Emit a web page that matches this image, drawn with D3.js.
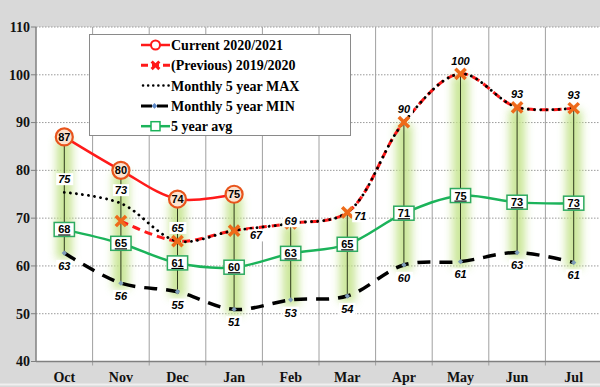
<!DOCTYPE html>
<html>
<head>
<meta charset="utf-8">
<script src="https://cdn.jsdelivr.net/npm/d3@7"></script>
<style>
  body { margin: 0; background: #d9d9d9; }
  svg { display: block; }
  .tick-y, .tick-x { font-family: "Liberation Serif", serif; font-weight: bold; font-size: 14px; fill: #111; }
  .lbl { font-family: "Liberation Sans", Arial, sans-serif; font-weight: bold; font-size: 11px; }
</style>
</head>
<body>
<div id="chart"></div>
<script>
const width = 600;
const height = 387;

// data
const months = ["Oct", "Nov", "Dec", "Jan", "Feb", "Mar", "Apr", "May", "Jun", "Jul"];
const current = [87, 80, 74, 75, null, null, null, null, null, null];
const previous = [null, 69.4, 65.2, 67.4, 68.9, 71.2, 90.1, 100.2, 93.2, 93];
const max5 = [75.4, 73.1, 65.2, 67.4, 68.9, 71.2, 90.1, 100.2, 93.2, 93];
const min5 = [62.7, 56.4, 54.6, 50.9, 52.9, 53.7, 60.2, 60.9, 62.8, 60.7];
const avg5 = [67.6, 64.7, 60.6, 59.7, 62.6, 64.5, 71, 74.7, 73.3, 73.1];
const currentLabels = ["87", "80", "74", "75"];
const maxLabels = ["75", "73", "65", "67", "69", "71", "90", "100", "93", "93"];
const minLabels = ["63", "56", "55", "51", "53", "54", "60", "61", "63", "61"];
const avgLabels = ["68", "65", "61", "60", "63", "65", "71", "75", "73", "73"];
const yTicks = [40, 50, 60, 70, 80, 90, 100, 110];
const legendNames = ["Current 2020/2021", "(Previous) 2019/2020", "Monthly 5 year MAX", "Monthly 5 year MIN", "5 year avg"];

// label placement for the max series (some sit beside the point)
const maxLabelOffset = [[0, -13], [0, -13], [0, -13], [22, 5], [0, -2], [13, 4], [0, -13], [0, -13], [0, -13], [0, -13]];

const svg = d3.select("#chart").append("svg")
    .attr("width", width)
    .attr("height", height);

const x = d3.scaleBand().domain(months).range([36, 602]);
const y = d3.scaleLinear().domain([40, 110]).range([361.5, 27]);
const cx = m => x(m) + x.bandwidth() / 2;

// plot area
svg.append("rect")
    .attr("x", 36).attr("y", y(110))
    .attr("width", width - 36).attr("height", y(40) - y(110))
    .attr("fill", "#fff");

svg.append("line")
    .attr("x1", 0).attr("x2", width)
    .attr("y1", 384.5).attr("y2", 384.5)
    .attr("stroke", "#f0f0f0").attr("stroke-width", 2);

// gridlines
svg.selectAll(".hgrid")
    .data(yTicks.slice(1))
    .enter().append("line")
    .attr("x1", 36).attr("x2", width)
    .attr("y1", d => y(d)).attr("y2", d => y(d))
    .attr("stroke", "#9a9a9a")
    .attr("stroke-dasharray", "1.5,1.5");

svg.selectAll(".vgrid")
    .data(months.slice(1))
    .enter().append("line")
    .attr("x1", d => x(d)).attr("x2", d => x(d))
    .attr("y1", y(110)).attr("y2", y(40) + 4)
    .attr("stroke", "#a0a0a0");

// axes
svg.append("line")
    .attr("x1", 36).attr("x2", 36)
    .attr("y1", y(110)).attr("y2", y(40))
    .attr("stroke", "#808080").attr("stroke-width", 1.5);
svg.append("line")
    .attr("x1", 36).attr("x2", width)
    .attr("y1", y(40)).attr("y2", y(40))
    .attr("stroke", "#808080").attr("stroke-width", 1.5);

svg.selectAll(".ytick")
    .data(yTicks)
    .enter().append("line")
    .attr("x1", 31).attr("x2", 36)
    .attr("y1", d => y(d)).attr("y2", d => y(d))
    .attr("stroke", "#808080");

svg.selectAll(".tick-y")
    .data(yTicks)
    .enter().append("text")
    .attr("class", "tick-y")
    .attr("x", 30)
    .attr("y", d => y(d))
    .attr("dy", "0.35em")
    .attr("text-anchor", "end")
    .text(d => d);

svg.selectAll(".tick-x")
    .data(months)
    .enter().append("text")
    .attr("class", "tick-x")
    .attr("x", d => cx(d))
    .attr("y", 382)
    .attr("text-anchor", "middle")
    .text(d => d);

// glow filter for high-low bands
const defs = svg.append("defs");
defs.append("filter").attr("id", "glow")
    .attr("x", "-100%").attr("y", "-20%").attr("width", "300%").attr("height", "140%")
    .append("feGaussianBlur").attr("stdDeviation", 4);

const hiLo = months.map((m, i) => {
    const vals = [current[i], previous[i], max5[i], min5[i], avg5[i]].filter(v => v != null);
    return { m, hi: d3.max(vals), lo: d3.min(vals) };
});

svg.selectAll(".band")
    .data(hiLo)
    .enter().append("rect")
    .attr("x", d => cx(d.m) - 8)
    .attr("width", 16)
    .attr("y", d => y(d.hi) + 2)
    .attr("height", d => y(d.lo) - y(d.hi) + 4)
    .attr("fill", "#c5e48e")
    .attr("opacity", 0.9)
    .attr("filter", "url(#glow)");

svg.selectAll(".hilo")
    .data(hiLo)
    .enter().append("line")
    .attr("x1", d => cx(d.m)).attr("x2", d => cx(d.m))
    .attr("y1", d => y(d.hi)).attr("y2", d => y(d.lo))
    .attr("stroke", "#2f3a1c").attr("stroke-width", 1);

// lines
const line = vals => d3.line()
    .defined((d, i) => vals[i] != null)
    .x((d, i) => cx(months[i]))
    .y((d, i) => y(vals[i]))
    .curve(d3.curveCatmullRom.alpha(0.5))(vals);

svg.append("path").attr("d", line(min5))
    .attr("fill", "none").attr("stroke", "#000").attr("stroke-width", 3.5)
    .attr("stroke-dasharray", "13,9");

svg.append("path").attr("d", line(avg5))
    .attr("fill", "none").attr("stroke", "#1bb35a").attr("stroke-width", 2.5);

svg.append("path").attr("d", line(previous))
    .attr("fill", "none").attr("stroke", "#ff1a1a").attr("stroke-width", 3)
    .attr("stroke-dasharray", "8,5");

svg.append("path").attr("d", line(max5))
    .attr("fill", "none").attr("stroke", "#000").attr("stroke-width", 2.8)
    .attr("stroke-linecap", "round")
    .attr("stroke-dasharray", "0.1,6");

svg.append("path").attr("d", line(current))
    .attr("fill", "none").attr("stroke", "#ff1a1a").attr("stroke-width", 2.5);

// markers
const xMark = d3.symbol().type(d3.symbolX).size(70);

svg.selectAll(".minmark")
    .data(months)
    .enter().append("path")
    .attr("transform", (d, i) => `translate(${cx(d)},${y(min5[i])}) rotate(45)`)
    .attr("d", d3.symbol().type(d3.symbolSquare).size(14)())
    .attr("fill", "#7d9cb8");

svg.selectAll(".prevmark")
    .data(months.filter((m, i) => previous[i] != null))
    .enter().append("path")
    .attr("transform", d => `translate(${cx(d)},${y(previous[months.indexOf(d)])})`)
    .attr("d", xMark())
    .attr("fill", "none")
    .attr("stroke", "#ee6a1a")
    .attr("stroke-width", 3.5);

// label helpers
function boxedLabel(g, px, py, txt, opts) {
    const t = g.append("text")
        .attr("class", "lbl")
        .attr("x", px).attr("y", py)
        .attr("dy", "0.35em")
        .attr("text-anchor", "middle")
        .style("font-style", opts.italic ? "italic" : "normal")
        .style("text-decoration", opts.underline ? "underline" : "none")
        .text(txt);
    const bb = t.node().getBBox();
    g.insert("rect", "text")
        .attr("x", bb.x - opts.padX)
        .attr("y", bb.y - opts.padY)
        .attr("width", bb.width + 2 * opts.padX)
        .attr("height", bb.height + 2 * opts.padY)
        .attr("fill", "#fff")
        .attr("stroke", opts.stroke || "none")
        .attr("stroke-width", 1.5);
}

// min labels
months.forEach((m, i) => {
    const g = svg.append("g");
    boxedLabel(g, cx(m), y(min5[i]) + 13, minLabels[i], { italic: true, padX: 2, padY: 0 });
});

// max labels
months.forEach((m, i) => {
    const g = svg.append("g");
    const [dx, dy] = maxLabelOffset[i];
    boxedLabel(g, cx(m) + dx, y(max5[i]) + dy, maxLabels[i], { italic: true, padX: 2, padY: 0 });
});

// avg labels
months.forEach((m, i) => {
    const g = svg.append("g");
    boxedLabel(g, cx(m), y(avg5[i]), avgLabels[i], { underline: true, padX: 4, padY: 1, stroke: "#2eaa60" });
});

// current markers with labels inside
currentLabels.forEach((lab, i) => {
    const m = months[i];
    svg.append("circle")
        .attr("cx", cx(m)).attr("cy", y(current[i]))
        .attr("r", 8.5)
        .attr("fill", "#fbe3cf")
        .attr("stroke", "#e8541c")
        .attr("stroke-width", 2.2);
    svg.append("text")
        .attr("class", "lbl")
        .attr("x", cx(m)).attr("y", y(current[i]))
        .attr("dy", "0.35em")
        .attr("text-anchor", "middle")
        .text(lab);
});

// legend
const legend = svg.append("g");
legend.append("rect")
    .attr("x", 89.5).attr("y", 34.5)
    .attr("width", 261).attr("height", 101)
    .attr("fill", "#fff")
    .attr("stroke", "#8a8a8a");

const rowY = i => 45 + i * 20.3;
const lx0 = 141, lx1 = 170;

const items = legend.selectAll(".item")
    .data(legendNames)
    .enter().append("g");

items.append("text")
    .attr("x", 171)
    .attr("y", (d, i) => rowY(i))
    .attr("dy", "0.35em")
    .style("font-family", "'Liberation Serif', serif")
    .style("font-weight", "bold")
    .style("font-size", "14px")
    .text(d => d);

// sample 0: current
legend.append("line").attr("x1", lx0).attr("x2", lx1).attr("y1", rowY(0)).attr("y2", rowY(0))
    .attr("stroke", "#ff1a1a").attr("stroke-width", 2.5);
legend.append("circle").attr("cx", (lx0 + lx1) / 2).attr("cy", rowY(0)).attr("r", 4.5)
    .attr("fill", "#fff").attr("stroke", "#ff1a1a").attr("stroke-width", 2);

// sample 1: previous
legend.append("line").attr("x1", lx0).attr("x2", lx1).attr("y1", rowY(1)).attr("y2", rowY(1))
    .attr("stroke", "#ff1a1a").attr("stroke-width", 3).attr("stroke-dasharray", "7,4");
legend.append("path").attr("transform", `translate(${(lx0 + lx1) / 2},${rowY(1)})`)
    .attr("d", d3.symbol().type(d3.symbolX).size(40)())
    .attr("fill", "none").attr("stroke", "#ff1a1a").attr("stroke-width", 3);

// sample 2: max
legend.append("line").attr("x1", lx0 + 2).attr("x2", lx1).attr("y1", rowY(2)).attr("y2", rowY(2))
    .attr("stroke", "#000").attr("stroke-width", 2.5).attr("stroke-linecap", "round")
    .attr("stroke-dasharray", "0.1,5");

// sample 3: min
legend.append("line").attr("x1", lx0).attr("x2", lx1).attr("y1", rowY(3)).attr("y2", rowY(3))
    .attr("stroke", "#000").attr("stroke-width", 3).attr("stroke-dasharray", "11,5");
legend.append("path").attr("transform", `translate(${(lx0 + lx1) / 2 - 1},${rowY(3)}) rotate(45)`)
    .attr("d", d3.symbol().type(d3.symbolSquare).size(16)())
    .attr("fill", "#5b86c4");

// sample 4: avg
legend.append("line").attr("x1", lx0).attr("x2", lx1).attr("y1", rowY(4)).attr("y2", rowY(4))
    .attr("stroke", "#1bb35a").attr("stroke-width", 2.5);
legend.append("rect").attr("x", (lx0 + lx1) / 2 - 4.5).attr("y", rowY(4) - 4.5)
    .attr("width", 9).attr("height", 9)
    .attr("fill", "#fff").attr("stroke", "#1bb35a").attr("stroke-width", 1.5);
</script>
</body>
</html>
